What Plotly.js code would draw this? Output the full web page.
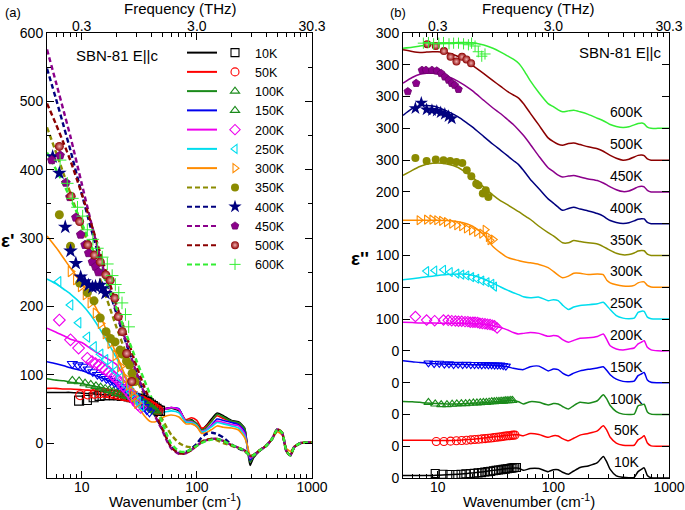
<!DOCTYPE html>
<html><head><meta charset="utf-8">
<script src="https://cdn.plot.ly/plotly-3.0.1.min.js"></script>
<style>body{margin:0;background:#fff;} #plot{width:685px;height:510px;}</style>
</head><body><div id="plot"></div>
<script>
// ---------- labels / styles ----------
const temps = ['10K','50K','100K','150K','200K','250K','300K','350K','400K','450K','500K','600K'];
const colors = ['#000000','#ff0000','#1a8a1a','#0000ee','#ee00ee','#00ddee','#ff8c00','#8b8b00','#00007f','#8b008b','#8b0000','#33ee33'];
const symbols = ['square-open','circle-open','triangle-up-open','triangle-down-open','diamond-open','triangle-left-open','triangle-right-open','circle','star','pentagon','circle','cross-thin-open'];
const legendSymbols = ['square-open','circle-open','triangle-up-open','triangle-up-open','diamond-open','triangle-left-open','triangle-right-open','circle','star','pentagon','circle','cross-thin-open'];
const legendSymbolColors = ['#000000','#ff0000','#1a8a1a','#1a8a1a','#ee00ee','#00ddee','#ff8c00','#8b8b00','#00007f','#8b008b','#8b0000','#33ee33'];
const dashed = [false,false,false,false,false,false,false,true,true,true,true,true];
const offsetsB = [0,100,200,300,400,500,600,700,800,900,1000,1100];
const tickValsB = [0,100,200,300,400,500,600,700,800,900,1000,1100,1200,1300,1400];
const tickTextB = ['0','0','0','0','0','100','100','100','200','200','300','300','300','300','300'];
const freqTickText = ['0.3','3.0','30.3'];

// ---------- panel (a): eps' fit curves ----------
const xa = [5,6,7,8,10,12,15,20,25,30,35,40,45,50,55,60,70,80,90,100,110,120,135,150,170,200,230,260,275,290,310,350,400,450,500,550,600,650,700,800,1000];
const epsA10  = [74,74,74,74,73,72,71,69,67,65,62,57,52,49,50,51,47,31,34,28,20,25,36,44,40,33,31,22,-8,-33,-22,-12,-4,6,18,14,-12,-18,-6,0,1];
const epsA50  = [80,80,79,79,78,77,75,72,69,66,62,57,52,50,51,52,49,34,37,33,22,24,33,40,36,32,29,20,-5,-27,-20,-11,-4,6,18,14,-12,-18,-6,0,1];
const epsA100 = [94,92,91,89,87,84,81,76,71,66,61,56,51,49,50,51,49,33,33,28,19,22,32,42,38,32,30,21,-6,-28,-20,-11,-4,6,18,14,-12,-18,-6,0,1];
const epsA150 = [119,116,113,110,106,101,95,85,74,66,60,55,50,49,51,52,50,31,29,24,16,19,27,35,33,30,27,17,-6,-25,-19,-11,-4,6,18,14,-12,-18,-6,0,1];
const epsA200 = [168,162,157,152,147,138,128,115,90,70,61,54,49,49,50,52,49,32,31,26,17,19,26,32,30,27,25,14,-7,-22,-19,-11,-4,6,18,14,-12,-18,-6,0,1];
const epsA250 = [240,233,225,218,203,187,162,125,92,68,58,51,47,45,46,47,44,31,30,26,16,18,24,30,28,25,22,11,-6,-20,-18,-11,-4,6,18,14,-12,-18,-6,0,1];
const epsA300 = [303,286,270,256,234,212,180,130,90,58,40,31,32,37,40,41,38,28,28,24,14,15,20,25,23,22,19,8,-4,-18,-17,-10,-4,6,16,12,-8,-12,-5,0,1];
const epsA350 = [462,425,393,365,318,280,232,170,126,93,70,54,44,35,22,12,0,-5,-6,-3,2,5,6,4,0,-4,-8,-12,-15,-18,-18,-11,-4,6,20,15,-12,-18,-6,0,1];
const epsA400 = [548,503,463,428,365,315,258,190,140,102,73,52,35,21,6,-6,-14,-13,-8,-1,8,13,15,13,8,-2,-8,-12,-15,-18,-18,-11,-4,6,20,15,-12,-18,-6,0,1];
const epsA450 = [576,527,485,448,380,325,262,193,142,102,73,51,34,19,3,-8,-16,-15,-10,-4,1,4,6,6,3,-3,-7,-11,-15,-19,-18,-11,-4,6,20,15,-12,-18,-6,0,1];
const epsA500 = [497,466,438,413,365,323,270,203,152,112,82,58,38,22,6,-6,-15,-15,-10,-4,1,4,6,6,3,-3,-7,-11,-15,-19,-18,-11,-4,6,20,15,-12,-18,-6,0,1];
const epsA600 = [425,400,378,358,322,290,250,198,155,120,92,68,47,30,12,-1,-12,-13,-9,-4,0,3,5,6,3,-3,-7,-11,-15,-19,-18,-11,-4,6,20,15,-12,-18,-6,0,1];

// ---------- panel (b): eps'' fit curves (before vertical offset) ----------
const xb = [5,6,7,8,9,10,12,15,18,20,25,30,35,40,45,50,55,63,75,90,100,110,120,135,150,170,200,240,270,290,310,350,400,450,500,540,580,610,650,700,800,1000];
const epsB10  = [8,8,8,8,8,9,10,12,14,16,20,24,27,30,31,31,24,30,30,20,26,26,18,12,22,33,38,48,68,50,27,7,2,1,2,20,28,32,8,1,0,0];
const epsB50  = [19,19,19,19,18,18,18,19,21,22,26,29,32,34,36,36,33,40,37,28,33,32,24,17,25,35,40,48,64,50,28,10,3,2,3,20,27,33,10,1,0,0];
const epsB100 = [41,40,38,36,35,34,33,33,34,35,37,39,41,43,44,40,33,40,38,30,34,33,25,17,28,38,35,43,62,48,28,9,1,0,1,27,30,32,8,1,0,0];
const epsB150 = [69,66,63,61,60,59,58,57,57,56,56,55,53,50,45,42,41,50,52,37,43,41,30,22,30,37,42,46,50,38,25,11,4,3,5,22,28,32,8,1,0,0];
const epsB200 = [90,89,88,88,88,87,87,87,86,86,84,79,73,66,58,53,55,58,55,46,48,46,35,27,33,40,41,45,53,35,16,6,3,6,9,22,28,32,11,3,0,0];
const epsB250 = [124,127,130,133,135,137,140,142,141,138,126,113,101,91,83,77,70,67,69,58,61,58,44,30,38,43,45,48,53,42,30,11,3,1,3,21,25,24,6,1,0,0];
const epsB300 = [211,211,211,211,211,211,210,206,199,192,165,128,108,94,88,84,80,77,72,62,50,38,30,35,44,44,40,42,40,22,14,8,4,3,6,14,17,17,6,1,0,0];
const epsB350 = [252,268,280,287,290,291,288,277,258,246,215,190,172,160,148,138,128,114,92,72,62,50,40,40,47,44,40,36,28,22,16,7,2,3,8,14,16,15,4,0,0,0];
const epsB400 = [341,362,372,372,370,366,354,336,316,304,274,250,231,214,199,186,168,140,110,78,65,52,42,48,52,46,40,32,24,16,10,4,1,3,9,14,16,15,4,0,0,0];
const epsB450 = [342,360,370,373,373,371,364,348,330,318,288,264,246,228,212,195,178,150,112,76,64,53,47,50,52,47,41,36,28,22,16,7,1,3,10,16,18,16,5,0,0,0];
const epsB500 = [347,342,339,340,341,341,338,326,309,298,272,250,232,216,205,195,178,148,110,70,58,50,47,52,54,49,42,36,28,21,15,6,0,3,10,15,16,14,4,0,0,0];
const epsB600 = [252,255,259,262,264,266,268,270,270,269,262,252,240,228,218,205,185,150,112,78,68,58,52,55,57,52,44,32,24,18,12,6,3,5,11,15,17,14,4,0,0,0];

// ---------- measured points: wavenumber (mw), eps' (ma), eps'' (mb, before offset) ----------
const mw10 = [9.5,11.1,12.7,14.3,15.9,17.5,19.1,20.7,22.3,23.9,25.5,27.1,28.7,30.3,31.9,33.5,35.1,36.7,38.3,39.9,41.5,43.1,44.7,46.3,47.9];
const ma10 = [62,63,67,69,70,70,70,70,69,69,68,67,66,65,64,63,62,60,58,56,54,52,50,48,47];
const mb10 = [14,12,11,11,12,13,14,15,16,17,19,20,21,23,24,25,26,27,28,29,30,31,32,33,33];
const mw50 = [9.7,11.3,12.9,14.5,16.1,17.7,19.3,20.9,22.5,24.1,25.7,27.3,28.9,30.5,32.1,33.7,35.3,36.9,38.5,40.1,41.7,43.3,44.9,46.5];
const ma50 = [70,71,72,73,73,72,71,70,69,68,67,66,65,64,63,62,60,59,57,55,53,51,49,48];
const mb50 = [15,15,16,17,18,19,20,21,22,23,24,25,26,27,28,29,30,31,32,33,33,34,35,35];
const mw100 = [8.3,9.5,10.7,12.0,13.3,14.6,16.0,17.4,18.8,20.3,21.8,23.3,24.8,26.3,27.8,29.3,30.8,32.3,33.8,35.3,36.8,38.3,39.8,41.3,42.8,44.3];
const ma100 = [91,90,87,85,83,81,79,77,75,73,72,70,69,68,67,66,64,62,60,58,56,54,52,50,48,46];
const mb100 = [38,33,31,31,32,33,34,34,35,36,36,37,38,38,39,40,40,41,41,42,42,43,43,43,44,44];
const mw150 = [8.3,9.3,10.3,11.4,12.5,13.7,15.0,16.4,17.8,19.3,20.8,22.4,24.0,25.7,27.4,29.2,31.0,32.9,34.8,36.8,38.8];
const ma150 = [116,114,112,108,104,100,97,94,91,88,85,82,79,76,72,68,64,58,53,48,45];
const mb150 = [62,60,61,58,59,57,58,57,58,57,57,57,56,57,56,56,55,55,55,54,52];
const mw200 = [6.4,8.0,9.4,11.2,12.3,13.2,14.2,15.1,16.1,17.2,18.2,19.1,20.1,21.0,22.1,23.1,24.3,25.6,26.9,28.3,29.6,30.9,32.6];
const ma200 = [180,151,139,124,119,116,114,110,107,104,100,97,94,91,87,83,79,75,70,65,60,56,52];
const mb200 = [108,97,95,97,96,95,94,93,93,92,92,90,90,90,89,87,86,85,84,83,81,79,72];
const mw250 = [6.3,8.0,9.4,11.2,12.8,14.6,16.1,17.8,19.6,21.7,24.0,26.6,29.3,30.9,33.0];
const ma250 = [236,202,176,155,141,130,122,113,105,95,85,75,65,60,54];
const mb250 = [null,151,153,155,148,143,140,137,132,127,121,116,111,102,null];
const mw300 = [6.9,8.0,8.9,9.8,10.8,11.9,13.2,14.6,16.1,17.7,19.6,21.7,24.0,25.7,27.4,28.3,30.2];
const ma300 = [null,251,239,229,217,205,190,175,160,146,128,112,95,85,75,68,58];
const mb300 = [211,213,213,211,209,205,200,195,192,185,179,174,169,181,158,148,150];
const mw350 = [6.4,8.0,9.6,11.2,12.8,14.5,16.3,17.8,19.5,21.5,22.5,24.5,26.0,27.4,29.0];
const ma350 = [334,288,234,220,208,183,163,153,148,136,130,120,114,102,90];
const mb350 = [307,297,302,300,297,294,291,268,249,226,221,195,205,184,null];
const mw400 = [5.6,6.4,7.2,8.0,8.9,9.8,10.6,11.5,12.4,13.2,14.4,15.2,16.1];
const ma400 = [419,395,316,281,263,243,236,231,228,229,231,226,219];
const mb400 = [null,363,380,359,357,355,350,345,338,331,null,null,null];
const mw450 = [5.5,6.5,7.3,7.9,8.9,9.8,10.7,11.5,12.4,13.2,14.0,15.1];
const ma450 = [414,421,381,360,330,305,290,278,265,258,250,null];
const mb450 = [316,342,383,383,383,381,373,362,352,342,336,323];
const mw500 = [6.4,8.1,9.6,11.3,12.9,14.5,16.2,17.7,19.4,20.8,22.5,24.6,27.2];
const ma500 = [434,361,324,290,275,265,246,238,212,185,163,131,90];
const mb500 = [null,365,359,343,325,310,325,317,305,null,null,null,null];
const mw600 = [6.5,7.5,8.3,9.2,10.2,11.2,12.5,13.7,15.1,16.7,18.4,19.6,21.0,22.4,24.0,25.6];
const ma600 = [414,380,358,345,332,312,298,285,272,262,245,232,220,205,188,170];
const mb600 = [null,268,270,266,268,270,266,268,268,266,263,268,259,241,227,234];

// ---------- assemble ----------
const epsA = [epsA10,epsA50,epsA100,epsA150,epsA200,epsA250,epsA300,epsA350,epsA400,epsA450,epsA500,epsA600];
const epsB = [epsB10,epsB50,epsB100,epsB150,epsB200,epsB250,epsB300,epsB350,epsB400,epsB450,epsB500,epsB600];
const mw = [mw10,mw50,mw100,mw150,mw200,mw250,mw300,mw350,mw400,mw450,mw500,mw600];
const ma = [ma10,ma50,ma100,ma150,ma200,ma250,ma300,ma350,ma400,ma450,ma500,ma600];
const mb = [mb10,mb50,mb100,mb150,mb200,mb250,mb300,mb350,mb400,mb450,mb500,mb600];

function markerStyle(i, sym, col, size) {
  const open = sym.indexOf('open') >= 0;
  const m = {symbol: sym, size: size, color: col, line: {color: col, width: open ? 1.1 : 0}};
  if (temps[i] === '500K') { m.gradient = {type: 'radial', color: '#f0b0b0'}; }
  if (temps[i] === '450K') { m.line = {color: '#6a006a', width: 0.8}; }
  if (temps[i] === '600K') { m.line = {color: col, width: 1}; }
  return m;
}
const DASH = '5px,3px';
const traces = [];
for (let i = 0; i < temps.length; i++) {
  traces.push({x: xa, y: epsA[i], xaxis: 'x', yaxis: 'y', mode: 'lines', name: temps[i], showlegend: false,
    line: {color: colors[i], width: dashed[i] ? 2.4 : 1.6, dash: dashed[i] ? DASH : 'solid', shape: 'spline', smoothing: 0.6}});
  traces.push({x: xb, y: epsB[i].map(v => v + offsetsB[i]), xaxis: 'x2', yaxis: 'y2', mode: 'lines', name: temps[i], showlegend: false,
    line: {color: colors[i], width: 1.5, shape: 'spline', smoothing: 0.6}});
}
for (let i = 0; i < temps.length; i++) {
  const sz = symbols[i] === 'star' ? 10 : 8;
  traces.push({x: mw[i], y: ma[i], xaxis: 'x', yaxis: 'y', mode: 'markers', name: temps[i], showlegend: false,
    marker: markerStyle(i, symbols[i], colors[i], sz + 1)});
  traces.push({x: mw[i], y: mb[i].map(v => v === null ? null : v + offsetsB[i]), xaxis: 'x2', yaxis: 'y2', mode: 'markers', name: temps[i], showlegend: false,
    marker: markerStyle(i, symbols[i], colors[i], sz)});
}
// invisible copies so that the top (frequency) axes get drawn
traces.push({x: xa, y: epsA10, xaxis: 'x3', yaxis: 'y', mode: 'lines', opacity: 0, showlegend: false, hoverinfo: 'skip', line: {width: 0}});
traces.push({x: xb, y: epsB10, xaxis: 'x4', yaxis: 'y2', mode: 'lines', opacity: 0, showlegend: false, hoverinfo: 'skip', line: {width: 0}});
// legend entries (line column, then symbol + label column)
for (let i = 0; i < temps.length; i++) {
  traces.push({x: [null], y: [null], xaxis: 'x', yaxis: 'y', mode: 'lines', name: ' ', legend: 'legend',
    line: {color: colors[i], width: 2, dash: dashed[i] ? DASH : 'solid'}});
}
for (let i = 0; i < temps.length; i++) {
  traces.push({x: [null], y: [null], xaxis: 'x', yaxis: 'y', mode: 'markers', name: temps[i], legend: 'legend2',
    marker: markerStyle(i, legendSymbols[i], legendSymbolColors[i], symbols[i] === 'star' ? 10 : 8)});
}

const W = 685, H = 510, T = 33, B = 32, PH = H - T - B;
const px = v => v / W;
const py = v => (H - B - v) / PH;
const FONT = 'Liberation Sans, Arial, Helvetica, sans-serif';
const minorVals = [6,7,8,9,20,30,40,50,60,70,80,90,200,300,400,500,600,700,800,900];
const logRange = [Math.log10(5), 3];

function xAxis(domain, anchor, extra) {
  return Object.assign({domain: domain, anchor: anchor, type: 'log', range: logRange,
    tickmode: 'array', tickvals: [10,100,1000], ticktext: ['10','100','1000'],
    ticks: 'inside', ticklen: 7, tickwidth: 1, tickcolor: '#000', ticklabelstandoff: -4,
    minor: {tickmode: 'array', tickvals: minorVals, ticks: 'inside', ticklen: 4, tickwidth: 1, tickcolor: '#000', showgrid: false},
    showline: true, linecolor: '#000', linewidth: 1, showgrid: false, zeroline: false,
    tickfont: {size: 14, family: FONT, color: '#000'}, fixedrange: true}, extra || {});
}

const layout = {
  width: W, height: H,
  margin: {l: 0, r: 0, t: T, b: B, pad: 0},
  paper_bgcolor: '#fff', plot_bgcolor: '#fff',
  font: {family: FONT, size: 14, color: '#000'},
  showlegend: true,
  legend: {x: px(182), y: py(38), xanchor: 'left', yanchor: 'top', bgcolor: 'rgba(0,0,0,0)', borderwidth: 0,
    font: {size: 12.5, family: FONT}, itemwidth: 30, tracegroupgap: 0},
  legend2: {x: px(215), y: py(38), xanchor: 'left', yanchor: 'top', bgcolor: 'rgba(0,0,0,0)', borderwidth: 0,
    font: {size: 12.5, family: FONT}, itemwidth: 30, tracegroupgap: 0},
  xaxis: xAxis([px(47), px(312)], 'y'),
  xaxis3: xAxis([px(47), px(312)], 'y', {overlaying: 'x', side: 'top', ticktext: freqTickText, ticklabelstandoff: -5}),
  yaxis: {domain: [0, 1], anchor: 'x', range: [-51.2, 600], tickmode: 'array', tickvals: [0,100,200,300,400,500,600],
    ticks: 'inside', ticklen: 7, tickcolor: '#000', minor: {dtick: 50, ticks: 'inside', ticklen: 4, tickcolor: '#000', showgrid: false},
    showline: true, linecolor: '#000', mirror: 'ticks', showgrid: false, zeroline: false,
    tickfont: {size: 14, family: FONT, color: '#000'}, fixedrange: true},
  xaxis2: xAxis([px(403), px(669)], 'y2'),
  xaxis4: xAxis([px(403), px(669)], 'y2', {overlaying: 'x2', side: 'top', ticktext: freqTickText, ticklabelstandoff: -5}),
  yaxis2: {domain: [0, 1], anchor: 'x2', range: [0, 1400], tickmode: 'array', tickvals: tickValsB, ticktext: tickTextB,
    ticks: 'inside', ticklen: 7, tickcolor: '#000',
    showline: true, linecolor: '#000', mirror: 'ticks', showgrid: false, zeroline: false,
    tickfont: {size: 14, family: FONT, color: '#000'}, fixedrange: true},
  annotations: []
};
const ann = (text, x, y, opts) => Object.assign({text: text, x: x, y: y, xref: 'paper', yref: 'paper', showarrow: false,
  xanchor: 'center', yanchor: 'middle', font: {size: 15, family: FONT, color: '#000'}}, opts || {});
layout.annotations.push(ann('(a)', px(13), py(12), {font: {size: 13, family: FONT, color: '#000'}}));
layout.annotations.push(ann('(b)', px(398), py(12), {font: {size: 13, family: FONT, color: '#000'}}));
layout.annotations.push(ann('Frequency (THz)', px(180), py(8)));
layout.annotations.push(ann('Frequency (THz)', px(538), py(8)));
layout.annotations.push(ann('Wavenumber (cm<sup>-1</sup>)', px(175), py(500)));
layout.annotations.push(ann('Wavenumber (cm<sup>-1</sup>)', px(529), py(500)));
layout.annotations.push(ann('<b>ε\'</b>', px(8), py(240), {font: {size: 19, family: FONT, color: '#000'}}));
layout.annotations.push(ann('<b>ε\'\'</b>', px(360), py(258), {font: {size: 19, family: FONT, color: '#000'}}));
layout.annotations.push(ann('SBN-81 E||c', px(74), py(56), {xanchor: 'left'}));
layout.annotations.push(ann('SBN-81 E||c', px(577), py(52), {xanchor: 'left'}));
const labelRise = 50;
for (let i = 0; i < temps.length; i++) {
  layout.annotations.push({text: temps[i], xref: 'x2', yref: 'y2', x: Math.log10(430), y: offsetsB[i] + labelRise,
    showarrow: false, xanchor: 'center', yanchor: 'middle', font: {size: 14, family: FONT, color: '#000'}});
}

Plotly.newPlot('plot', traces, layout, {staticPlot: true, displayModeBar: false});
</script>
</body></html>
